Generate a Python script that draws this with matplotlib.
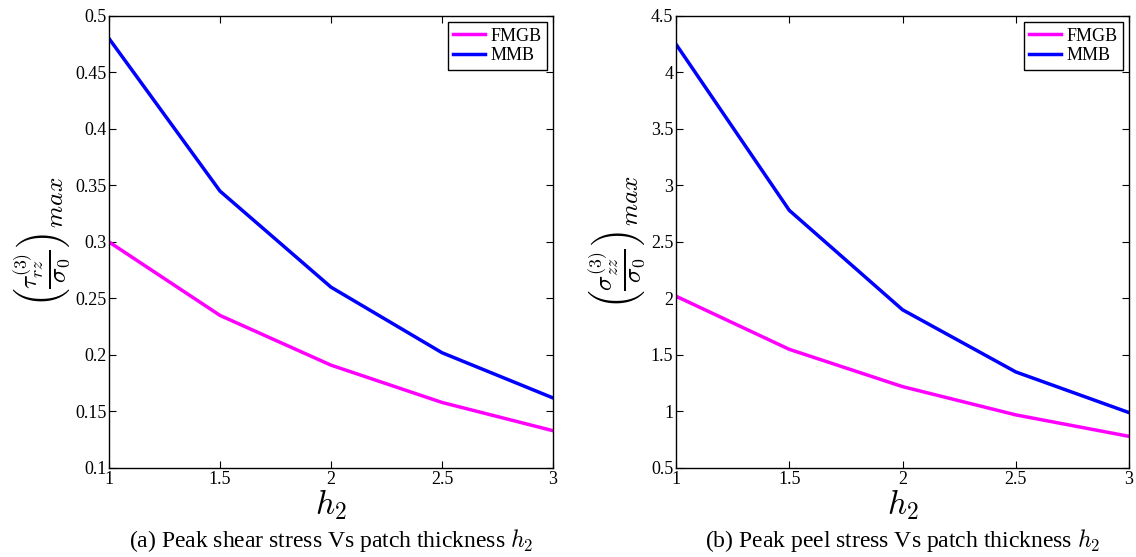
import matplotlib
matplotlib.use("Agg")
import matplotlib.pyplot as plt

h2 = [1, 1.5, 2, 2.5, 3]
shear_fmgb = [0.300, 0.235, 0.191, 0.158, 0.133]
shear_mmb = [0.480, 0.345, 0.260, 0.202, 0.162]
peel_fmgb = [2.02, 1.55, 1.22, 0.97, 0.78]
peel_mmb = [4.25, 2.78, 1.90, 1.35, 0.99]

plt.rcParams['font.family'] = ['Liberation Serif', 'DejaVu Serif']
plt.rcParams['mathtext.fontset'] = 'cm'

fig = plt.figure(figsize=(11.36, 5.57), dpi=100)
ax1 = fig.add_axes([0.0960, 0.1598, 0.3908, 0.8115])
ax2 = fig.add_axes([0.5951, 0.1598, 0.3988, 0.8115])

def style(ax, ylim, yticks, ylabel, caption):
    ax.set_xlim(1, 3)
    ax.set_ylim(*ylim)
    ax.set_xticks([1, 1.5, 2, 2.5, 3])
    ax.set_xticklabels(['1', '1.5', '2', '2.5', '3'])
    ax.set_yticks(yticks)
    ax.set_yticklabels([('%g' % t) for t in yticks])
    ax.tick_params(direction='in', top=True, right=True, labelsize=13, length=5, width=0.8, pad=2)
    for s in ax.spines.values():
        s.set_linewidth(1.0)
    ax.set_xlabel(r'$h_2$', fontsize=24, labelpad=0)
    ax.set_ylabel(ylabel, fontsize=26, labelpad=1)
    ax.legend(loc='upper right', fontsize=13, handlelength=1.75, fancybox=False,
              edgecolor='black', framealpha=1, borderpad=0.3, labelspacing=0.15,
              handletextpad=0.3, borderaxespad=0.35)
    ax.text(0.5, -0.13, caption, transform=ax.transAxes, ha='center', va='top', fontsize=17)

ax1.plot(h2, shear_fmgb, color='#ff00ff', lw=2.5, label='FMGB')
ax1.plot(h2, shear_mmb, color='#0000ff', lw=2.5, label='MMB')
style(ax1, (0.1, 0.5), [0.1, 0.15, 0.2, 0.25, 0.3, 0.35, 0.4, 0.45, 0.5],
      r'$\left(\frac{\tau_{rz}^{(3)}}{\sigma_0}\right)_{max}$',
      r'(a) Peak shear stress Vs patch thickness $h_2$')

ax2.plot(h2, peel_fmgb, color='#ff00ff', lw=2.5, label='FMGB')
ax2.plot(h2, peel_mmb, color='#0000ff', lw=2.5, label='MMB')
style(ax2, (0.5, 4.5), [0.5, 1, 1.5, 2, 2.5, 3, 3.5, 4, 4.5],
      r'$\left(\frac{\sigma_{zz}^{(3)}}{\sigma_0}\right)_{max}$',
      r'(b) Peak peel stress Vs patch thickness $h_2$')

fig.savefig('out.png', dpi=100)
